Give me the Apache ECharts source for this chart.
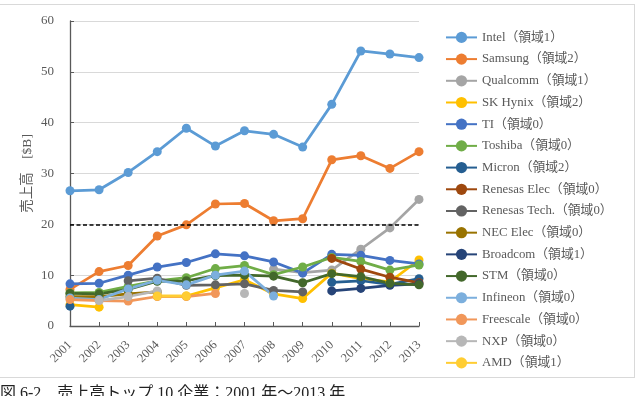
<!DOCTYPE html>
<html>
<head>
<meta charset="utf-8">
<script src="https://cdn.jsdelivr.net/npm/echarts@6/dist/echarts.min.js"></script>
<style>
html,body{margin:0;padding:0;background:#fff;}
#main{width:637px;height:396px;}
</style>
</head>
<body>
<div id="main"></div>
<script>
const years = ['2001','2002','2003','2004','2005','2006','2007','2008','2009','2010','2011','2012','2013'];
const yTicks = [0, 10, 20, 30, 40, 50, 60];
const threshold = 20;

const intel       = [26.6, 26.8, 30.2, 34.3, 38.9, 35.4, 38.4, 37.7, 35.2, 43.6, 54.1, 53.5, 52.8];
const samsung     = [7.2, 10.7, 11.9, 17.7, 19.9, 24.0, 24.1, 20.7, 21.1, 32.7, 33.5, 31.0, 34.3];
const qualcomm    = [null, null, null, null, null, null, null, 11.2, 10.5, 11.0, 15.1, 19.3, 24.9];
const skHynix     = [4.2, 3.7, null, 5.9, 5.9, 7.5, 9.1, 6.3, 5.4, 10.4, 9.3, 8.7, 13.0];
const ti          = [8.3, 8.4, 10.0, 11.6, 12.5, 14.2, 13.8, 12.6, 10.4, 14.1, 13.9, 12.9, 12.2];
const toshiba     = [6.5, 6.6, 7.8, 8.9, 9.5, 11.3, 11.9, 10.1, 11.6, 13.5, 12.7, 11.0, 12.0];
const micron      = [3.9, null, null, null, null, null, null, null, null, 8.6, 8.9, 8.2, 9.3];
const renesasElec = [null, null, null, null, null, null, null, null, null, 13.3, 11.2, 9.6, 8.5];
const renesasTech = [null, null, 8.9, 9.4, 8.0, 8.1, 8.3, 7.0, 6.7, null, null, null, null];
const necElec     = [5.8, 5.8, 6.3, 6.7, null, null, null, null, null, null, null, null, null];
const broadcom    = [null, null, null, null, null, null, null, null, null, 6.9, 7.4, 8.0, 8.3];
const stm         = [6.4, 6.3, 7.2, 8.8, 8.9, 9.9, 10.0, 9.8, 8.5, 10.3, 9.7, 8.4, 8.1];
const infineon    = [5.5, 5.2, 7.3, 9.0, 8.1, 10.0, 10.8, 5.9, null, null, null, null, null];
const freescale   = [5.2, 5.0, 4.9, 5.8, 5.8, 6.4, null, null, null, null, null, null, null];
const nxp         = [null, 5.0, 5.8, 6.9, null, null, 6.4, null, null, null, null, null, null];
const amd         = [null, null, null, 5.9, 5.9, null, null, null, null, null, null, null, null];

const names = ['Intel（領域1）','Samsung（領域2）','Qualcomm（領域1）','SK Hynix（領域2）','TI（領域0）','Toshiba（領域0）','Micron（領域2）','Renesas Elec（領域0）','Renesas Tech.（領域0）','NEC Elec（領域0）','Broadcom（領域1）','STM（領域0）','Infineon（領域0）','Freescale（領域0）','NXP（領域0）','AMD（領域1）'];
const seriesData = [intel, samsung, qualcomm, skHynix, ti, toshiba, micron, renesasElec, renesasTech, necElec, broadcom, stm, infineon, freescale, nxp, amd];
const colors = ['#5B9BD5','#ED7D31','#A5A5A5','#FFC000','#4472C4','#70AD47','#255E91','#9E480E','#636363','#997300','#264478','#43682B','#7CAFDD','#F1975A','#B7B7B7','#FFCD33'];

const serifFont = '"Liberation Serif","DejaVu Serif","Noto Sans CJK JP",serif';

const series = seriesData.map((d, i) => ({
  name: names[i],
  type: 'line',
  data: d,
  connectNulls: false,
  symbol: 'circle',
  symbolSize: 9,
  lineStyle: { width: 2.75, color: colors[i] },
  itemStyle: { color: colors[i] },
  emphasis: { disabled: true },
  animation: false
}));
series[0].markLine = {
  silent: true,
  symbol: ['none','none'],
  label: { show: false },
  lineStyle: { color: '#000', type: [4, 2.5], width: 1.5 },
  data: [{ yAxis: threshold }],
  z: 10
};

const chart = echarts.init(document.getElementById('main'), null, { renderer: 'canvas' });
chart.setOption({
  backgroundColor: '#fff',
  animation: false,
  color: colors,
  title: {
    text: '図 6-2　売上高トップ 10 企業：2001 年～2013 年',
    left: 0, top: 386, padding: 0,
    textStyle: { fontSize: 16, fontWeight: 'normal', color: '#222', fontFamily: serifFont }
  },
  grid: { left: 70, right: 218, top: 21, bottom: 70 },
  legend: {
    orient: 'vertical',
    left: 440, top: 26,
    itemWidth: 31, itemHeight: 14, itemGap: 8.9,
    textStyle: { fontSize: 12.8, color: '#595959', fontFamily: serifFont },
    data: names
  },
  xAxis: {
    type: 'category',
    data: years,
    boundaryGap: false,
    axisLine: { lineStyle: { color: '#595959', width: 1.3 } },
    axisTick: { inside: true, length: 4, lineStyle: { color: '#595959' } },
    axisLabel: { rotate: 45, fontSize: 12.5, color: '#595959', fontFamily: serifFont, margin: 17 },
    splitLine: { show: false }
  },
  yAxis: {
    type: 'value',
    min: yTicks[0], max: yTicks[yTicks.length - 1], interval: 10,
    name: '売上高　[$B]',
    nameLocation: 'middle',
    nameRotate: 90,
    nameGap: 36,
    nameMoveOverlap: false,
    nameTextStyle: { fontSize: 13.5, color: '#595959', fontFamily: serifFont },
    axisLine: { show: true, lineStyle: { color: '#595959', width: 1.3 } },
    axisTick: { show: true, inside: true, length: 4, lineStyle: { color: '#595959' } },
    axisLabel: { fontSize: 13, color: '#595959', fontFamily: serifFont, margin: 16 },
    splitLine: { lineStyle: { color: '#D9D9D9', width: 1 } }
  },
  graphic: [
    { type: 'line', shape: { x1: 0, y1: 4.5, x2: 634, y2: 4.5 }, style: { stroke: '#D9D9D9', lineWidth: 1 }, silent: true },
    { type: 'line', shape: { x1: 0, y1: 377.5, x2: 634, y2: 377.5 }, style: { stroke: '#D9D9D9', lineWidth: 1 }, silent: true },
    { type: 'line', shape: { x1: 634.5, y1: 4, x2: 634.5, y2: 378 }, style: { stroke: '#D9D9D9', lineWidth: 1 }, silent: true }
  ],
  series: series
});
</script>
</body>
</html>
